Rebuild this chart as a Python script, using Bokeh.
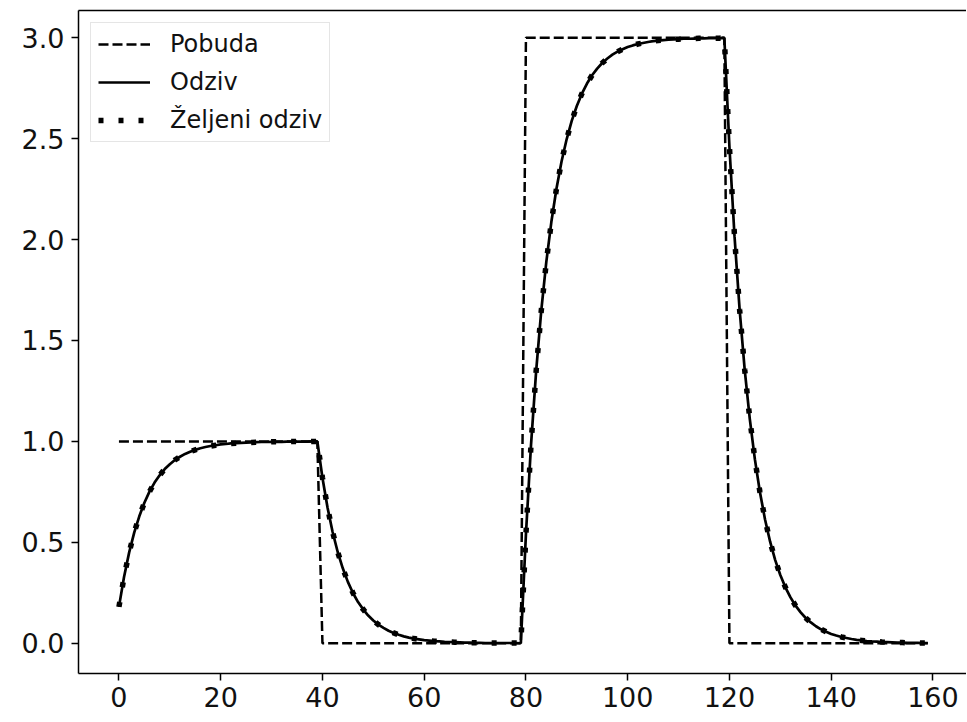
from bokeh.plotting import figure
from bokeh.models import Range1d, LinearAxis, FixedTicker, Legend, LegendItem, ColumnDataSource
from bokeh.embed import file_html
from bokeh.resources import INLINE

# ---- data ----
t = list(range(160))

pobuda_t = [0, 39, 40, 79, 80, 119, 120, 159]
pobuda = [1, 1, 0, 0, 3, 3, 0, 0]

odziv = [
    0.180, 0.328, 0.449, 0.548, 0.629, 0.696, 0.751, 0.796, 0.832, 0.863,
    0.887, 0.908, 0.924, 0.938, 0.949, 0.958, 0.966, 0.972, 0.977, 0.981,
    0.985, 0.987, 0.990, 0.991, 0.993, 0.994, 0.995, 0.996, 0.997, 0.997,
    0.998, 0.998, 0.998, 0.999, 0.999, 0.999, 0.999, 0.999, 1.000, 1.000,
    0.820, 0.672, 0.551, 0.452, 0.371, 0.304, 0.249, 0.204, 0.168, 0.137,
    0.113, 0.092, 0.076, 0.062, 0.051, 0.042, 0.034, 0.028, 0.023, 0.019,
    0.015, 0.013, 0.010, 0.009, 0.007, 0.006, 0.005, 0.004, 0.003, 0.003,
    0.002, 0.002, 0.001, 0.001, 0.001, 0.001, 0.001, 0.001, 0.001, 0.000,
    0.540, 0.983, 1.346, 1.644, 1.888, 2.088, 2.252, 2.387, 2.497, 2.588,
    2.662, 2.723, 2.773, 2.814, 2.847, 2.875, 2.897, 2.916, 2.931, 2.943,
    2.954, 2.962, 2.969, 2.974, 2.979, 2.983, 2.986, 2.988, 2.990, 2.992,
    2.993, 2.995, 2.995, 2.996, 2.997, 2.997, 2.998, 2.998, 2.998, 2.999,
    2.460, 2.017, 1.654, 1.356, 1.112, 0.912, 0.748, 0.613, 0.503, 0.412,
    0.338, 0.277, 0.227, 0.186, 0.153, 0.125, 0.103, 0.084, 0.069, 0.057,
    0.046, 0.038, 0.031, 0.026, 0.021, 0.017, 0.014, 0.011, 0.009, 0.008,
    0.006, 0.005, 0.004, 0.003, 0.003, 0.002, 0.002, 0.002, 0.001, 0.001,
]

# desired response coincides with the response
zeljeni = list(odziv)

x_ticks = [0, 20, 40, 60, 80, 100, 120, 140, 160]
y_ticks = [0.0, 0.5, 1.0, 1.5, 2.0, 2.5, 3.0]
y_tick_labels = {0.0: "0.0", 0.5: "0.5", 1.0: "1.0", 1.5: "1.5", 2.0: "2.0", 2.5: "2.5", 3.0: "3.0"}

labels = ["Pobuda", "Odziv", "Željeni odziv"]

# ---- figure ----
FONT = "DejaVu Sans"
TICK_FS = "27px"

p = figure(
    width=966, height=720,
    output_backend="svg", toolbar_location=None,
    x_range=Range1d(-7.95, 166.6), y_range=Range1d(-0.15, 3.135),
    min_border_left=78, min_border_right=0, min_border_top=10, min_border_bottom=47,
)
p.outline_line_color = None
p.background_fill_color = "white"
p.border_fill_color = "white"
p.xgrid.visible = False
p.ygrid.visible = False

for ax in (p.xaxis[0], p.yaxis[0]):
    ax.axis_line_color = "black"
    ax.axis_line_width = 1.5
    ax.major_tick_line_color = "black"
    ax.major_tick_line_width = 1.5
    ax.major_tick_out = 7
    ax.major_tick_in = 0
    ax.minor_tick_line_color = None
    ax.major_label_text_font = FONT
    ax.major_label_text_font_size = TICK_FS
    ax.major_label_text_color = "#111111"

p.xaxis[0].ticker = FixedTicker(ticks=x_ticks)
p.xaxis[0].major_label_standoff = 6
p.yaxis[0].ticker = FixedTicker(ticks=y_ticks)
p.yaxis[0].major_label_overrides = y_tick_labels
p.yaxis[0].major_label_standoff = 7

# top frame line (the right edge of the reference frame is cut off)
top_axis = LinearAxis(
    ticker=FixedTicker(ticks=[]),
    axis_line_color="black", axis_line_width=1.5,
    major_tick_line_color=None, minor_tick_line_color=None,
    major_tick_out=0, major_tick_in=0, major_label_standoff=0,
)
p.add_layout(top_axis, "above")

src = ColumnDataSource(dict(t=t, odziv=odziv, zeljeni=zeljeni))

r_pob = p.line(pobuda_t, pobuda, line_color="black", line_width=2.5,
               line_dash="10 4", line_cap="butt")
r_odz = p.line("t", "odziv", source=src, line_color="black", line_width=2.7)
r_zel = p.line("t", "zeljeni", source=src, line_color="black", line_width=5.5,
               line_dash="5 15", line_cap="butt")

legend = Legend(
    items=[LegendItem(label=labels[0], renderers=[r_pob]),
           LegendItem(label=labels[1], renderers=[r_odz]),
           LegendItem(label=labels[2], renderers=[r_zel])],
    location="top_left",
    margin=12,
    padding=7,
    spacing=10,
    glyph_width=52,
    glyph_height=24,
    label_height=24,
    label_standoff=20,
    label_text_font=FONT,
    label_text_font_size="24px",
    label_text_color="#111111",
    border_line_color="#cccccc",
    border_line_width=1.5,
    background_fill_color="white",
    background_fill_alpha=0.85,
)
p.add_layout(legend)

open("out.html", "w").write(file_html(p, INLINE))
